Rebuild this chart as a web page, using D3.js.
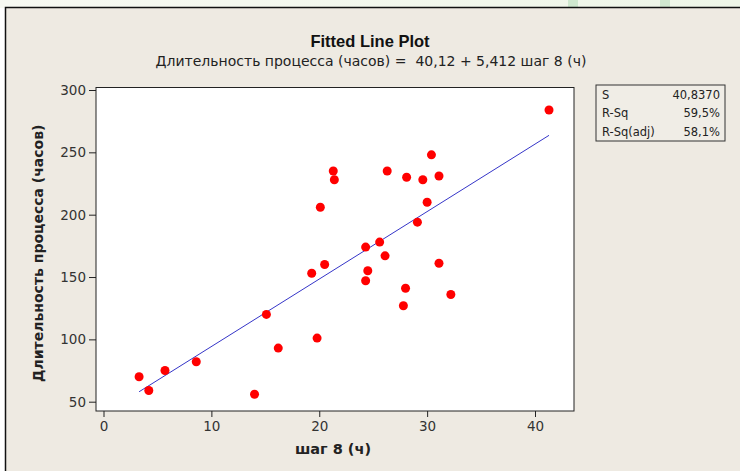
<!DOCTYPE html>
<html>
<head>
<meta charset="utf-8">
<script src="https://cdn.jsdelivr.net/npm/d3@7"></script>
<style>
  body { margin: 0; background: #fff; }
  svg { display: block; }
  text { font-family: "DejaVu Sans", sans-serif; white-space: pre; }
</style>
</head>
<body>
<div id="chart"></div>
<script>
// данные
const shag = [3.3, 4.2, 5.7, 8.6, 14.0, 15.1, 16.2, 19.3, 19.8, 20.1, 20.5, 21.3, 21.4, 24.3, 24.3,
              24.5, 25.6, 26.1, 26.3, 27.8, 28.0, 28.1, 29.1, 29.6, 30.0, 30.4, 31.1, 31.1, 32.2, 41.3];
const hours = [70, 59, 75, 82, 56, 120, 93, 153, 101, 206, 160, 235, 228, 174, 147,
               155, 178, 167, 235, 127, 141, 230, 194, 228, 210, 248, 231, 161, 136, 284];
const xTicks = [0, 10, 20, 30, 40];
const yTicks = [50, 100, 150, 200, 250, 300];
const statNames = ["S", "R-Sq", "R-Sq(adj)"];
const statValues = ["40,8370", "59,5%", "58,1%"];
const intercept = 40.12, slope = 5.412;

const W = 740, H = 471;
const plot = { left: 96, right: 574, top: 87.5, bottom: 411 };

const svg = d3.select('#chart').append('svg')
    .attr('width', W)
    .attr('height', H);

// полоска сверху и рамка
const grad = svg.append('defs').append('linearGradient').attr('id', 'strip');
grad.append('stop').attr('offset', '0%').attr('stop-color', '#f7f9f2');
grad.append('stop').attr('offset', '100%').attr('stop-color', '#eef6e8');
svg.append('rect').attr('width', W).attr('height', 8).attr('fill', 'url(#strip)');
svg.append('rect').attr('x', 568).attr('y', 0).attr('width', 10).attr('height', 7).attr('fill', '#cfe8cf');
svg.append('rect').attr('x', 660).attr('y', 0).attr('width', 10).attr('height', 7).attr('fill', '#cfe8cf');

svg.append('rect')
    .attr('x', 5.5).attr('y', 7.5)
    .attr('width', W).attr('height', H)
    .attr('fill', '#eeeae2')
    .attr('stroke', '#111')
    .attr('stroke-width', 1.5);

// шкалы
const x = d3.scaleLinear()
    .domain([(plot.left - 103.5) / 10.7875, (plot.right - 103.5) / 10.7875])
    .range([plot.left, plot.right]);
const y = d3.scaleLinear()
    .domain([300 - (plot.bottom - 90) / 1.2468, 300 + (90 - plot.top) / 1.2468])
    .range([plot.bottom, plot.top]);

svg.append('rect')
    .attr('x', plot.left).attr('y', plot.top)
    .attr('width', plot.right - plot.left).attr('height', plot.bottom - plot.top)
    .attr('fill', '#fff')
    .attr('stroke', '#222')
    .attr('stroke-width', 1);

// оси
const fmt = d3.format('d');
const gx = svg.append('g')
    .attr('transform', `translate(0,${plot.bottom})`)
    .call(d3.axisBottom(x).tickValues(xTicks).tickFormat(fmt).tickSize(6).tickPadding(4));
const gy = svg.append('g')
    .attr('transform', `translate(${plot.left},0)`)
    .call(d3.axisLeft(y).tickValues(yTicks).tickFormat(fmt).tickSize(7).tickPadding(3));

[gx, gy].forEach(g => {
    g.select('.domain').remove();
    g.selectAll('line').attr('stroke', '#222');
    g.selectAll('text')
        .attr('fill', '#333')
        .style('font-family', '"DejaVu Sans", sans-serif')
        .style('font-size', '13.5px');
});

// линия регрессии
const xMin = d3.min(shag), xMax = d3.max(shag);
svg.append('line')
    .attr('x1', x(xMin)).attr('y1', y(intercept + slope * xMin))
    .attr('x2', x(xMax)).attr('y2', y(intercept + slope * xMax))
    .attr('stroke', '#3535c8')
    .attr('stroke-width', 1);

// точки
svg.append('g').selectAll('circle')
    .data(shag.map((d, i) => [d, hours[i]]))
    .join('circle')
    .attr('cx', d => x(d[0]))
    .attr('cy', d => y(d[1]))
    .attr('r', 4.5)
    .attr('fill', '#ff0000');

// заголовки
svg.append('text')
    .attr('x', 370).attr('y', 47)
    .attr('text-anchor', 'middle')
    .style('font-family', '"Liberation Sans", sans-serif')
    .style('font-size', '16.5px')
    .style('font-weight', 'bold')
    .attr('fill', '#111')
    .text('Fitted Line Plot');
svg.append('text')
    .attr('x', 371).attr('y', 66)
    .attr('text-anchor', 'middle')
    .style('font-size', '14px')
    .attr('fill', '#222')
    .text('Длительность процесса (часов) =  40,12 + 5,412 шаг 8 (ч)');

svg.append('text')
    .attr('x', (plot.left + plot.right) / 2 - 2).attr('y', 454)
    .attr('text-anchor', 'middle')
    .style('font-size', '14.5px')
    .style('font-weight', 'bold')
    .attr('fill', '#222')
    .text('шаг 8 (ч)');
svg.append('text')
    .attr('transform', `translate(43,${(plot.top + plot.bottom) / 2 + 4}) rotate(-90)`)
    .attr('text-anchor', 'middle')
    .style('font-size', '14px')
    .style('font-weight', 'bold')
    .attr('fill', '#222')
    .text('Длительность процесса (часов)');

// таблица статистик
const box = svg.append('g').attr('transform', 'translate(596,85)');
box.append('rect')
    .attr('width', 129).attr('height', 56)
    .attr('fill', '#f0ede6')
    .attr('stroke', '#333')
    .attr('stroke-width', 1);
statNames.forEach((name, i) => {
    box.append('text')
        .attr('x', 6).attr('y', 14 + i * 18.3)
        .style('font-size', '11.5px')
        .attr('fill', '#222')
        .text(name);
    box.append('text')
        .attr('x', 124).attr('y', 14 + i * 18.3)
        .attr('text-anchor', 'end')
        .style('font-size', '11.5px')
        .attr('fill', '#222')
        .text(statValues[i]);
});
</script>
</body>
</html>
